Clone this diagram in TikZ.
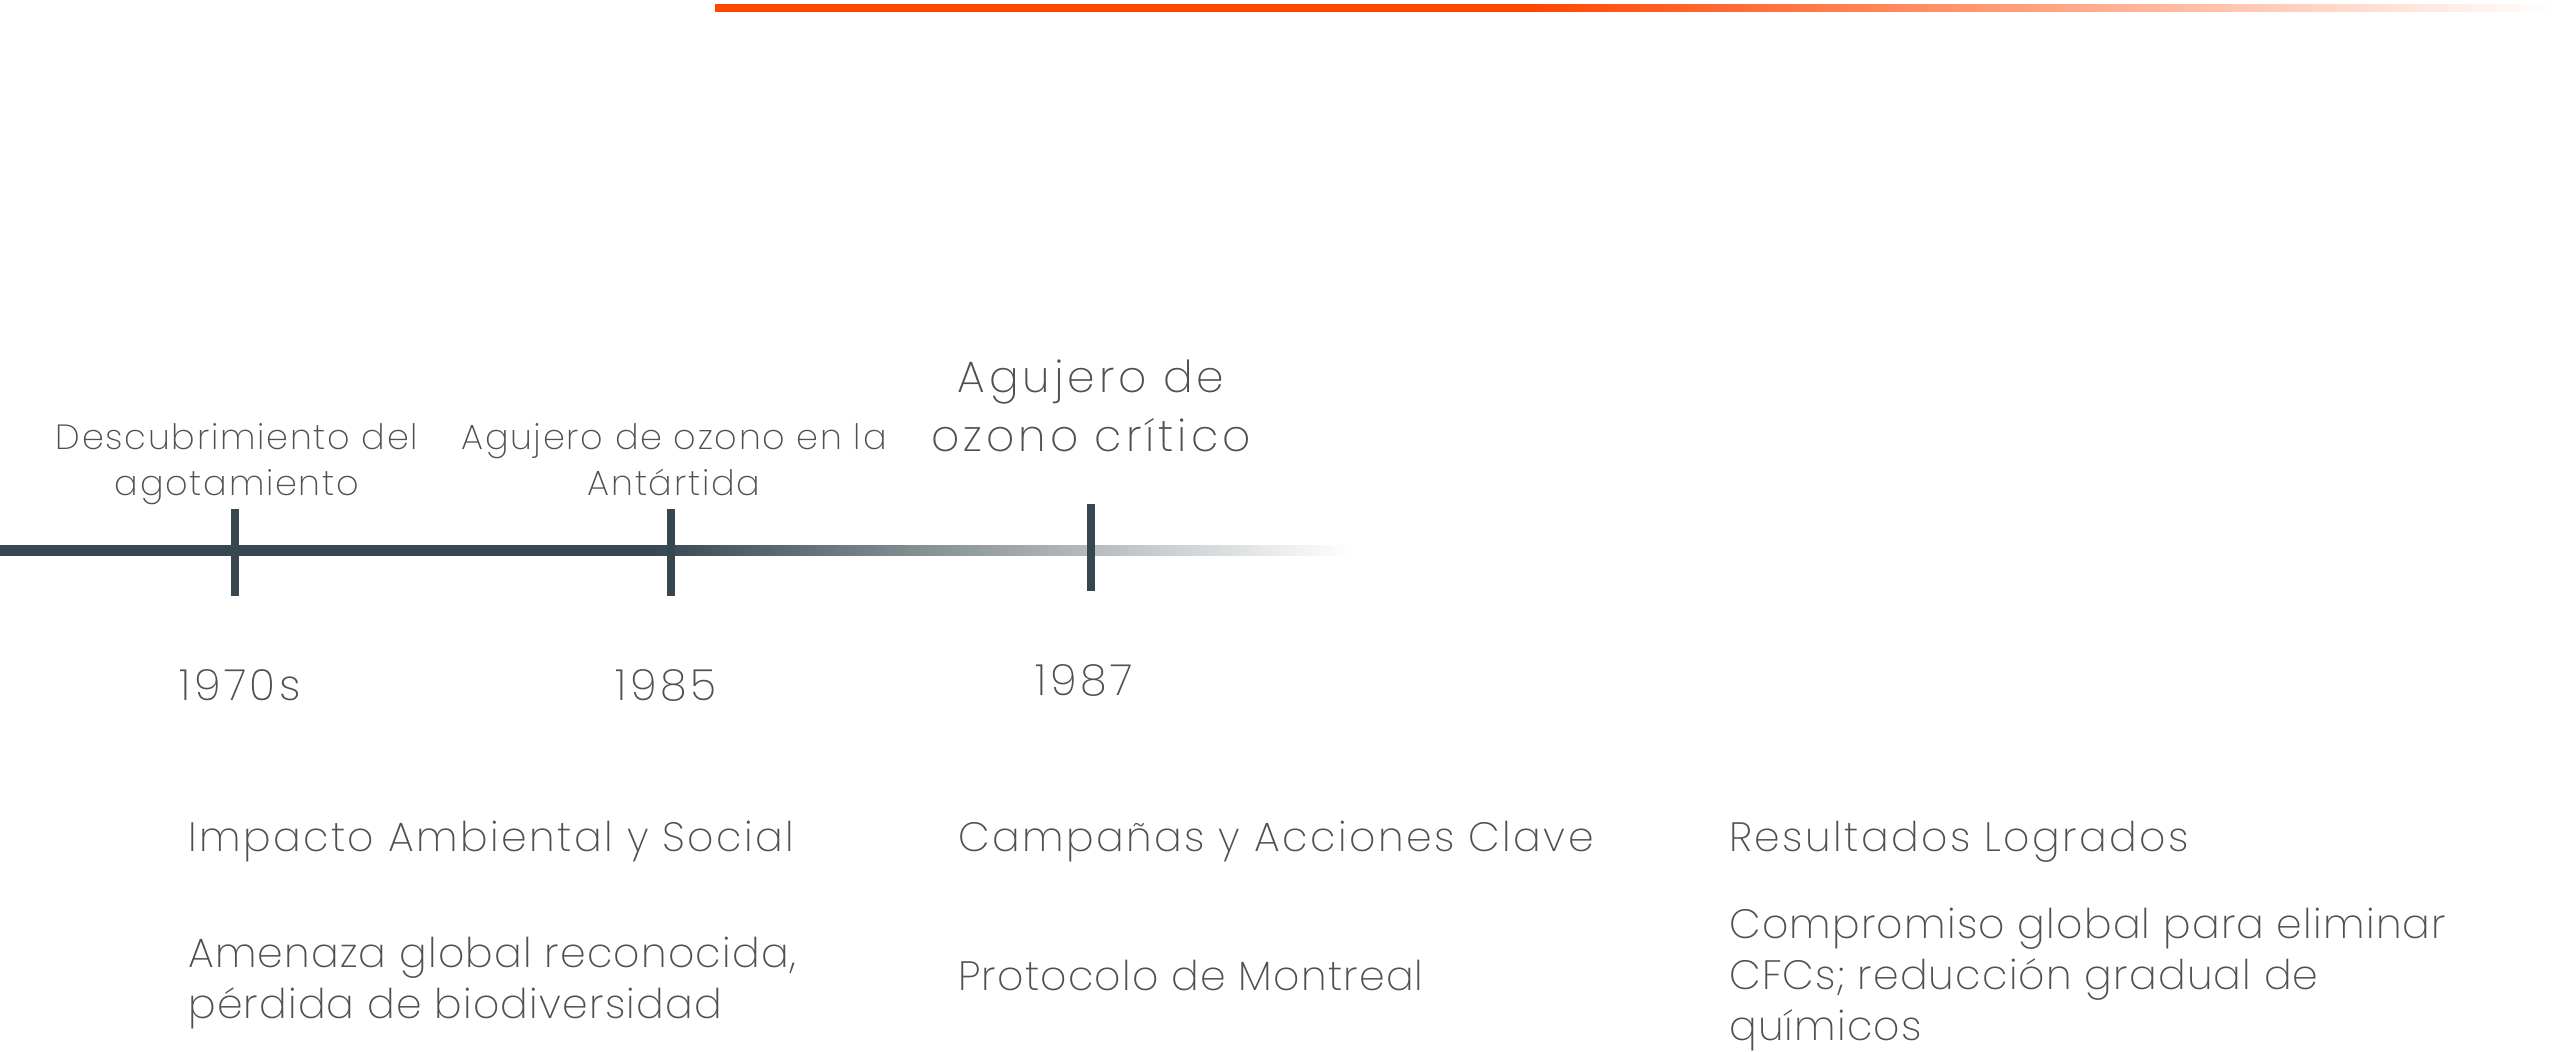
\documentclass[tikz,border=0pt]{standalone}
\usepackage{fontspec}
\setmainfont{Poppins ExtraLight}
\usepackage{xcolor}
\usetikzlibrary{positioning}
\definecolor{slate}{HTML}{37474F}
\definecolor{flame}{HTML}{FF4500}
\definecolor{ink}{HTML}{505050}
% the path box maps onto 25bp..75bp of a horizontal shading
\pgfdeclarehorizontalshading{flamefade}{100bp}{color(0bp)=(flame); color(47bp)=(flame); color(75bp)=(white); color(100bp)=(white)}
\pgfdeclarehorizontalshading{slatefade}{100bp}{color(0bp)=(slate); color(49bp)=(slate); color(75bp)=(white); color(100bp)=(white)}
\begin{document}
\begin{tikzpicture}[x=1pt, y=-1pt,
  every node/.style={text=ink, inner sep=0pt},
  eventlabel/.style={font=\fontsize{35}{46}\selectfont\addfontfeature{LetterSpace=5}, align=center, anchor=base},
  biglabel/.style={font=\fontsize{44}{59}\selectfont\addfontfeature{LetterSpace=9}, align=center, anchor=base},
  yearlabel/.style={font=\fontsize{43}{50}\selectfont\addfontfeature{LetterSpace=8}, anchor=base},
  headlabel/.style={font=\fontsize{41}{50}\selectfont\addfontfeature{LetterSpace=6}, anchor=base west},
  bodylabel/.style={font=\fontsize{41}{51}\selectfont\addfontfeature{LetterSpace=3}, align=left, anchor=base west},
  tickmark/.style={fill=slate}]

  \useasboundingbox (0,0) rectangle (2560,1052);

  %% top accent bar
  \shade[shading=flamefade] (715,4) rectangle (2552,11);

  %% timeline axis
  \shade[shading=slatefade] (0,545) rectangle (1350,555);

  %% ticks
  \coordinate (t1) at (235,552);
  \coordinate (t2) at (671,552);
  \coordinate (t3) at (1091,547);
  \foreach \t in {t1,t2,t3}
    \fill[tickmark] ([xshift=-4pt,yshift=43pt]\t) rectangle ([xshift=4pt,yshift=-44pt]\t);

  %% event labels (anchored at last baseline)
  \node[eventlabel] (ev1) at (237,495) {Descubrimiento del\\agotamiento};
  \node[eventlabel] (ev2) at (674,495) {Agujero de ozono en la\\Antártida};
  \node[biglabel] (ev3) at (1091,451) {Agujero de\\ozono crítico};

  %% years
  \node[yearlabel] (y1) at (240,700) {1970s};
  \node[yearlabel] (y2) at (666,700) {1985};
  \node[yearlabel] (y3) at (1084,695) {1987};

  %% summary columns
  \node[headlabel] (h1) at (188,851) {Impacto Ambiental y Social};
  \node[headlabel] (h2) at (958,851) {Campañas y Acciones Clave};
  \node[headlabel] (h3) at (1729,851) {Resultados Logrados};

  \node[bodylabel] (b1) at (188,1018) {Amenaza global reconocida,\\pérdida de biodiversidad};
  \node[bodylabel] (b2) at (958,990) {Protocolo de Montreal};
  \node[bodylabel] (b3) at (1729,1040) {Compromiso global para eliminar\\CFCs; reducción gradual de\\químicos};

\end{tikzpicture}
\end{document}
